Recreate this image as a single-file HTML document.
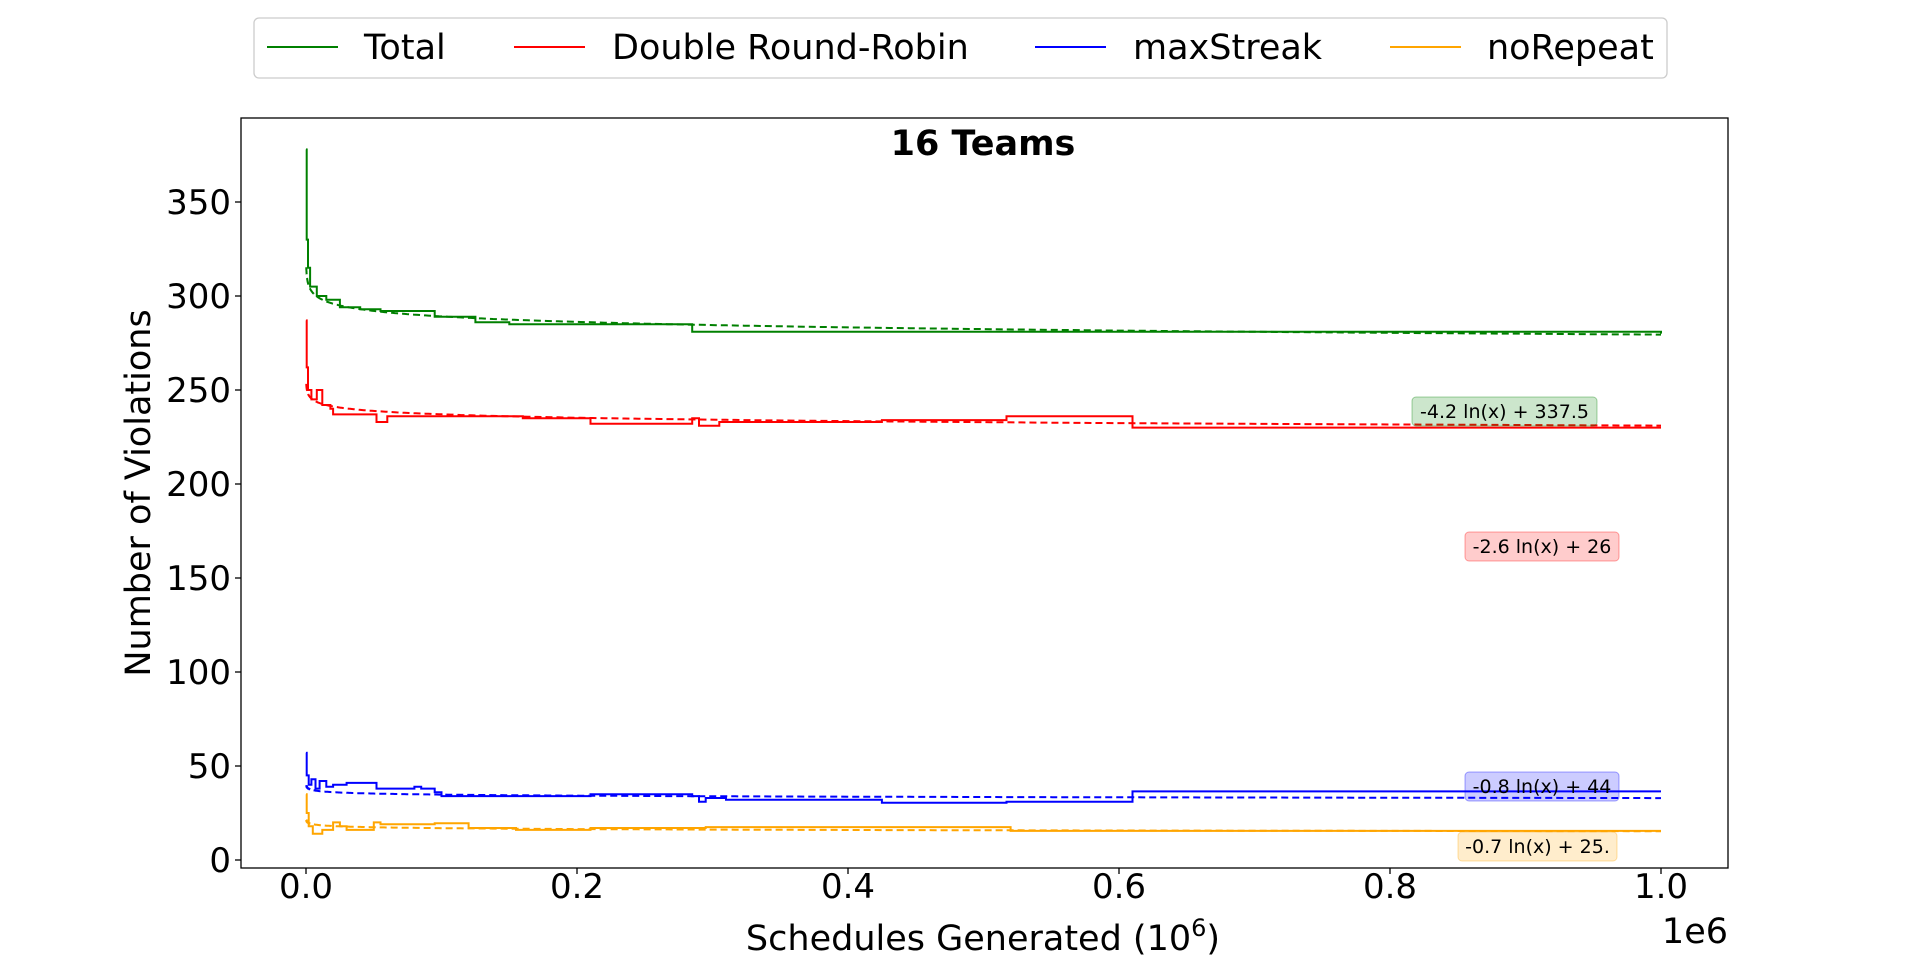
<!DOCTYPE html>
<html><head><meta charset="utf-8"><style>
body{margin:0;background:#fff;}
svg{display:block;font-family:"DejaVu Sans","Liberation Sans",sans-serif;}
</style></head><body>
<svg id="chart" width="1920" height="975" viewBox="0 0 1920 975">
<g id="plot"></g>
</svg>
<script>
const seriesNames = ["Total","Double Round-Robin","maxStreak","noRepeat"];
const seriesColors = ["green","red","blue","orange"];
const totalX = [0,500,1500,3000,8000,15000,25000,40000,55000,95000,125000,150000,285000,1000000];
const totalY = [378,330,315,305,300,298,294,293,292,289,286,285,281,280];
const drrX = [0,500,1500,4000,8000,12000,18000,20000,50000,52000,60000,75000,150000,160000,210000,280000,285000,290000,305000,420000,425000,517000,608000,610000,1000000];
const drrY = [287,262,250,245,250,242,240,237,237,233,236,236,236,235,232,232,235,231,233,233,234,236,236,230,230];
const streakX = [0,500,2000,4000,7000,10000,15000,20000,30000,50000,52000,80000,85000,95000,100000,200000,210000,285000,290000,295000,310000,425000,517000,608000,610000,1000000];
const streakY = [57,45,40,43,38,42,39,40,41,41,38,39,38,36,34,34,35,34,31,33,32,30.5,31,31,36.5,36.5];
const repeatX = [0,500,2000,5000,12000,20000,25000,30000,50000,55000,95000,120000,150000,155000,200000,210000,290000,295000,420000,520000,1000000];
const repeatY = [35,25,18,14,16,20,18,16,20,19,19.5,17,17,16,16,17,17,17.5,17.5,15.5,15.5];
const fitSlope = [-4.2,-2.6,-0.8,-0.7];
const fitIntercept = [337.5,267,44,25];
const fitLabels = ["-4.2 ln(x) + 337.5","-2.6 ln(x) + 26","-0.8 ln(x) + 44","-0.7 ln(x) + 25."];
const xTicks = [0,0.2,0.4,0.6,0.8,1.0];
const xTickLabels = ["0.0","0.2","0.4","0.6","0.8","1.0"];
const yTicks = [0,50,100,150,200,250,300,350];

const NS="http://www.w3.org/2000/svg";
const svg=document.getElementById('chart');
const plot=document.getElementById('plot');
const L=241,R=1728,T=118,B=868;
const xs=v=>306+(v/1e6)*1355;
const ys=v=>860-v*1.88;
function mk(tag,attrs,parent){const e=document.createElementNS(NS,tag);for(const k in attrs)e.setAttribute(k,attrs[k]);(parent||svg).appendChild(e);return e;}

const allX=[totalX,drrX,streakX,repeatX], allY=[totalY,drrY,streakY,repeatY];
const keys=["total","double-round-robin","max-streak","no-repeat"];
for(let s=0;s<4;s++){
  let d="";
  for(let i=0;i<=400;i++){const x=Math.exp(Math.log(200)+(Math.log(1e6)-Math.log(200))*i/400);
    const y=fitSlope[s]*Math.log(x)+fitIntercept[s];d+=(i?"L":"M")+xs(x).toFixed(1)+" "+ys(y).toFixed(1);}
  const p=mk('path',{d:d,fill:'none',stroke:seriesColors[s],'stroke-width':2,'stroke-dasharray':'7,4'},plot);
  
  
}
for(let s=0;s<4;s++){
  const X=allX[s],Y=allY[s];let d="M"+xs(X[0])+" "+ys(Y[0]);
  for(let i=1;i<X.length;i++){d+="L"+xs(X[i]).toFixed(1)+" "+ys(Y[i-1]).toFixed(1)+"L"+xs(X[i]).toFixed(1)+" "+ys(Y[i]).toFixed(1);}
  const p=mk('path',{d:d,fill:'none',stroke:seriesColors[s],'stroke-width':2},plot);
  
  
}
const boxes=[[1412,397,185],[1465,532,154],[1465,772,154],[1458,832,159]];
const boxFill=["rgba(0,128,0,0.2)","rgba(255,0,0,0.2)","rgba(0,0,255,0.2)","rgba(255,165,0,0.2)"];
for(let s=0;s<4;s++){
  const g=mk('g',{});
  
  
  mk('rect',{x:boxes[s][0],y:boxes[s][1],width:boxes[s][2],height:29,rx:4,fill:boxFill[s],stroke:boxFill[s].replace('0.2','0.35')},g);
  const t=mk('text',{x:boxes[s][0]+boxes[s][2]/2,y:boxes[s][1]+21,'text-anchor':'middle','font-size':19,fill:'#000'},g);
  t.textContent=fitLabels[s];
}
const fr=mk('rect',{x:L,y:T,width:R-L,height:B-T,fill:'none',stroke:'#000','stroke-width':1.3});

xTicks.forEach((v,i)=>{
  const x=xs(v*1e6);
  const l=mk('line',{x1:x,x2:x,y1:B,y2:B+6,stroke:'#000','stroke-width':1.3});
  
  const t=mk('text',{x:x,y:898,'text-anchor':'middle','font-size':34});
  
  t.textContent=xTickLabels[i];
});
yTicks.forEach(v=>{
  const y=ys(v);
  const l=mk('line',{x1:L-6,x2:L,y1:y,y2:y,stroke:'#000','stroke-width':1.3});
  
  const t=mk('text',{x:L-10,y:y+12,'text-anchor':'end','font-size':34});
  
  t.textContent=v;
});
let t=mk('text',{x:983,y:155,'text-anchor':'middle','font-size':35,'font-weight':'bold'});
t.textContent="16 Teams";
t=mk('text',{x:983,y:950,'text-anchor':'middle','font-size':35});

t.innerHTML='Schedules Generated (10<tspan dy="-14" font-size="24">6</tspan><tspan dy="14">)</tspan>';
t=mk('text',{x:1728,y:943,'text-anchor':'end','font-size':35});
t.textContent="1e6";
t=mk('text',{x:150,y:493,'text-anchor':'middle','font-size':35,transform:'rotate(-90 150 493)'});
t.textContent="Number of Violations";
const lg=mk('g',{});

mk('rect',{x:254,y:18,width:1413,height:60,rx:5,fill:'#fff',stroke:'#ccc','stroke-width':1.3},lg);
const lineX=[267,514,1035,1390],textX=[364,612,1133,1487];
for(let s=0;s<4;s++){
  const e=mk('g',{},lg);
  
  mk('line',{x1:lineX[s],x2:lineX[s]+71,y1:47,y2:47,stroke:seriesColors[s],'stroke-width':2},e);
  const tt=mk('text',{x:textX[s],y:59,'font-size':35},e);tt.textContent=seriesNames[s];
}
</script>
</body></html>
